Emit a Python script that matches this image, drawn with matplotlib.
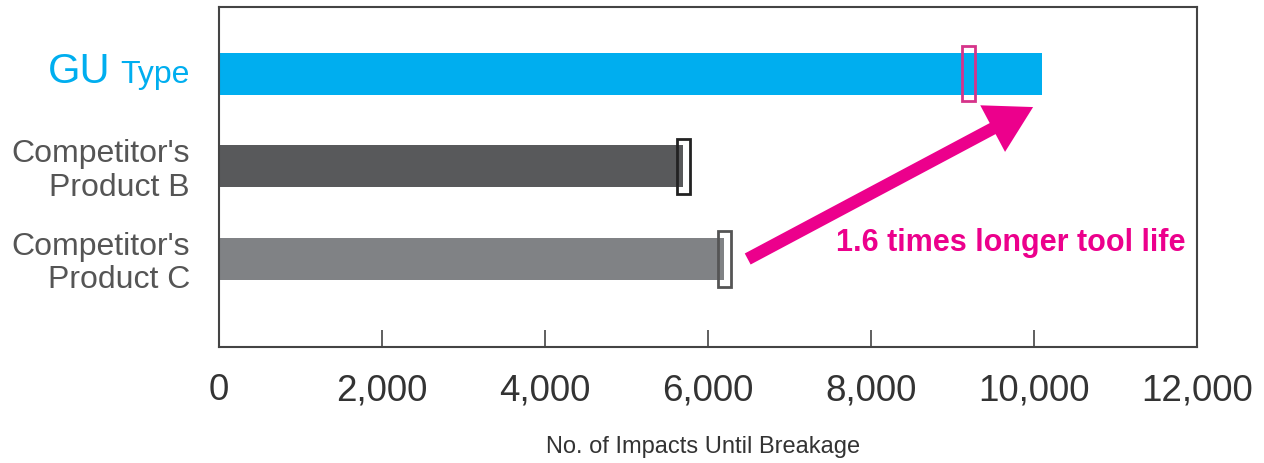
import matplotlib
matplotlib.use("Agg")
import matplotlib.pyplot as plt
from matplotlib.patches import Rectangle
from matplotlib import transforms

plt.rcParams['font.family'] = ['Liberation Sans', 'DejaVu Sans']

# Data
products = ["GU Type", "Competitor's\nProduct B", "Competitor's\nProduct C"]
impacts = [10100, 5700, 6200]
marker_values = [9200, 5700, 6200]
bar_colors = ["#00aeef", "#58595b", "#808285"]
marker_colors = ["#d6338a", "#222222", "#555555"]
x_ticks = [0, 2000, 4000, 6000, 8000, 10000, 12000]
x_ticklabels = ["0", "2,000", "4,000", "6,000", "8,000", "10,000", "12,000"]
arrow_start = (6490, 1.0)
arrow_end = (9990, 2.64)
note_text = "1.6 times longer tool life"
x_label = "No. of Impacts Until Breakage"

y_pos = [3, 2, 1]

fig = plt.figure(figsize=(12.64, 4.63), dpi=100)
ax = fig.add_axes([218.5 / 1264, 1 - 347 / 463, 978.5 / 1264, 340 / 463])

ax.barh(y_pos, impacts, height=0.455, color=bar_colors, zorder=2)

# Narrow outlined markers on each bar
box_w = 160
box_h = 0.6
for y, v, c in zip(y_pos, marker_values, marker_colors):
    ax.add_patch(Rectangle((v - box_w / 2, y - box_h / 2), box_w, box_h,
                           fill=False, edgecolor=c, linewidth=2.0, zorder=3))

ax.set_xlim(0, 12000)
ax.set_ylim(0.05, 3.72)

for s in ax.spines.values():
    s.set_color("#444444")
    s.set_linewidth(1.5)

ax.set_xticks(x_ticks)
ax.set_xticklabels(x_ticklabels, fontsize=26.5, color="#333333")
ax.tick_params(axis="x", direction="in", length=12.5, width=1.2,
               color="#444444", pad=19)
ax.set_yticks([])

ax.set_xlabel(x_label, fontsize=17, color="#333333")
ax.xaxis.set_label_coords(0.4957, -0.3118)
ax.xaxis.label.set_va("baseline")

# Category labels
ytrans = ax.get_yaxis_transform()
lab_x = -0.029
base = transforms.offset_copy(ytrans, fig=fig, x=0, y=-6.5, units="points")
ax.text(lab_x, y_pos[0], "Type", transform=base, ha="right",
        va="baseline", fontsize=23, color="#00aeef")
gu_trans = transforms.offset_copy(ytrans, fig=fig, x=-57.5, y=-6.5, units="points")
ax.text(lab_x, y_pos[0], "GU", transform=gu_trans, ha="right",
        va="baseline", fontsize=30, color="#00aeef")
for y, name in zip(y_pos[1:], products[1:]):
    ax.text(lab_x, y - 0.05, name, transform=ytrans, ha="right", va="center",
            fontsize=23, color="#555555", linespacing=1.15,
            multialignment="right")

# Highlight arrow and note
ax.annotate("", xy=arrow_end, xytext=arrow_start,
            arrowprops=dict(arrowstyle="simple,head_length=33,head_width=38,tail_width=9",
                            mutation_scale=1, color="#ec008c", shrinkA=0, shrinkB=0,
                            lw=0),
            zorder=4)
ax.text(11853, 1.086, note_text, ha="right", va="baseline",
        fontsize=22, fontweight="bold", color="#ec008c")

fig.savefig("out.png", dpi=100)
